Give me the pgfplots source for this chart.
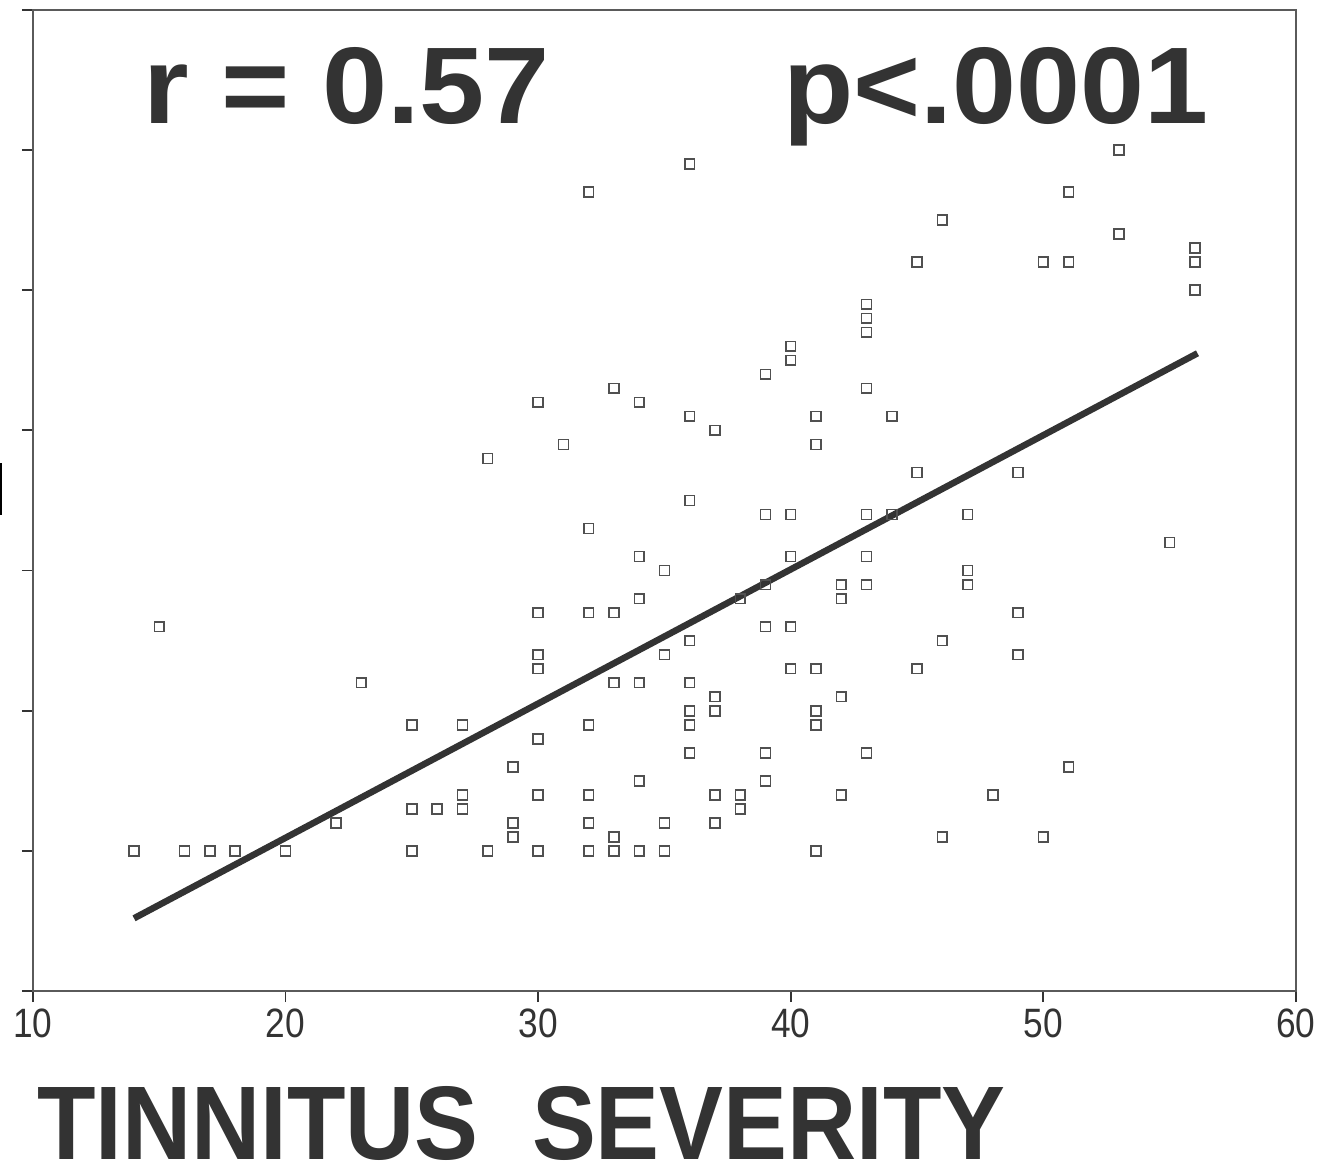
\documentclass[border=0pt]{standalone}
\usepackage{fontspec}
\setmainfont{Liberation Sans}
\usepackage{graphicx}
\usepackage{pgfplots}
\usepackage{pgfplotstable}
\pgfplotsset{compat=1.18}
\definecolor{ink}{HTML}{333333}
\definecolor{axisgray}{HTML}{5a5a5a}
\definecolor{markgray}{HTML}{505050}

\pgfplotstableread{
x y
14 10
15 26
16 10
17 10
18 10
20 10
22 12
23 22
25 19
25 13
25 10
26 13
27 19
27 14
27 13
28 38
28 10
29 16
29 12
29 11
30 42
30 27
30 24
30 23
30 18
30 14
30 10
31 39
32 57
32 33
32 27
32 19
32 14
32 12
32 10
33 43
33 27
33 22
33 11
33 10
34 42
34 31
34 28
34 22
34 15
34 10
35 30
35 24
35 12
35 10
36 59
36 41
36 35
36 25
36 22
36 20
36 19
36 17
37 40
37 21
37 20
37 14
37 12
38 28
38 14
38 13
39 44
39 34
39 29
39 26
39 17
39 15
40 46
40 45
40 34
40 31
40 26
40 23
41 41
41 39
41 23
41 20
41 19
41 10
42 29
42 28
42 21
42 14
43 49
43 48
43 47
43 43
43 34
43 31
43 29
43 17
44 41
44 34
45 52
45 37
45 23
46 55
46 25
46 11
47 34
47 30
47 29
48 14
49 37
49 27
49 24
50 52
50 11
51 57
51 52
51 16
53 60
53 54
55 32
56 53
56 52
56 50
}\pts

\pgfplotstableread{
x y
14 5.2
56.1 45.5
}\fit

\begin{document}
\begin{tikzpicture}[x=1pt,y=1pt]
\useasboundingbox (0,0) rectangle (1335,1168);
\begin{axis}[
  at={(33pt,176.8pt)}, anchor=south west,
  scale only axis, width=1263pt, height=981.4pt,
  xmin=10, xmax=60, ymin=0, ymax=70,
  xtick={10,20,...,60}, ytick={0,10,...,70},
  yticklabels={},
  xtick pos=bottom, ytick pos=left,
  tick align=outside, major tick length=11pt,
  axis line style={axisgray, line width=1.6pt},
  tick style={ink, line width=1.8pt},
  xticklabel={\scalebox{0.86}[1]{\pgfmathprintnumber[assume math mode=true]{\tick}}},
  xticklabel style={font=\fontsize{41}{41}\selectfont, text=ink, anchor=north, inner sep=0pt, yshift=-6pt},
  clip=false,
]
\addplot[only marks, mark=square, mark size=4.9pt, mark options={draw=markgray, line width=1.6pt, fill=none}] table {\pts};
\addplot[ink, line width=6.5pt, line cap=butt] table {\fit};
\end{axis}
\node[anchor=base west, inner sep=0pt, text=ink] at (143,1044) {\resizebox{407pt}{76pt}{\bfseries r = 0.57}};
\node[anchor=base west, inner sep=0pt, text=ink] at (783,1044) {\resizebox{425pt}{76pt}{\bfseries p<.0001}};
\node[anchor=base west, inner sep=0pt, text=ink] at (37,9) {\resizebox{968pt}{73pt}{\bfseries TINNITUS\ \ SEVERITY}};
\fill[black] (0,653) rectangle (2,705);
\end{tikzpicture}
\end{document}
